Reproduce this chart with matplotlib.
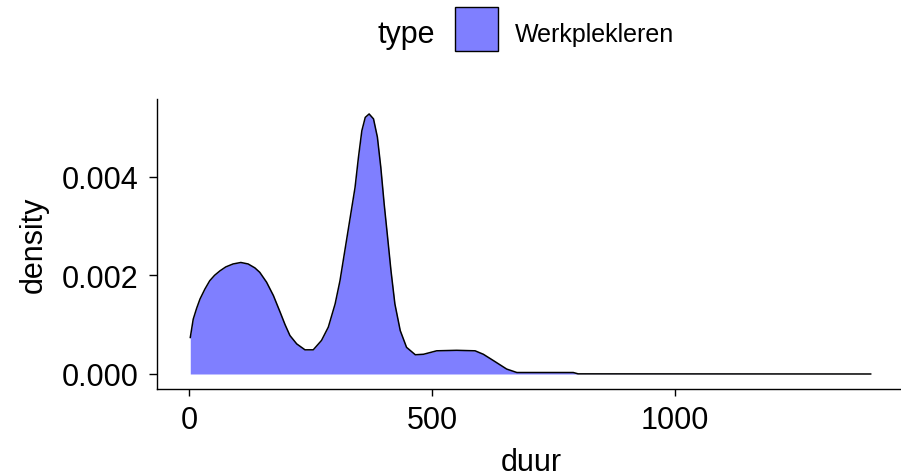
import matplotlib
matplotlib.use("Agg")
import matplotlib.pyplot as plt
from matplotlib.patches import Rectangle

plt.rcParams['font.family'] = ['Liberation Sans', 'DejaVu Sans']

# Data (density estimate of 'duur')
duur = [2, 8, 15, 22, 32, 42, 52, 63, 75, 90, 106, 121, 135, 145, 159, 173, 187, 197,
        207, 221, 238, 255, 272, 286, 300, 310, 320, 331, 341, 348, 355, 362, 370,
        379, 387, 394, 401, 408, 415, 423, 434, 447, 465, 482, 509, 550, 588, 605,
        626, 653, 674, 790, 800, 1402]
density = [0.00074, 0.00111, 0.00133, 0.00152, 0.00172, 0.00189, 0.00200, 0.00209,
           0.00217, 0.00223, 0.00226, 0.00223, 0.00215, 0.00206, 0.00186, 0.00159,
           0.00125, 0.00100, 0.00078, 0.00061, 0.00049, 0.00049, 0.00068, 0.00095,
           0.00142, 0.00189, 0.00250, 0.00317, 0.00378, 0.00439, 0.00493, 0.00520,
           0.00527, 0.00517, 0.00480, 0.00419, 0.00344, 0.00277, 0.00209, 0.00142,
           0.00088, 0.00054, 0.00039, 0.00040, 0.00047, 0.00048, 0.00047, 0.00040,
           0.00027, 0.00010, 0.00003, 0.00003, 0.000003, 0.0]
series_name = "Werkplekleren"
legend_title = "type"
x_ticks = [0, 500, 1000]
y_ticks = [0.000, 0.002, 0.004]
y_tick_labels = ["0.000", "0.002", "0.004"]

W, H = 901, 477
fig = plt.figure(figsize=(W / 100, H / 100), dpi=100)

# panel in pixel coordinates
left_px, right_px, top_px, bottom_px = 157, 904.6, 100, 389.5
ax = fig.add_axes([left_px / W, (H - bottom_px) / H,
                   (right_px - left_px) / W, (bottom_px - top_px) / H])

fill_color = '#7F7FFF'
ax.fill_between(duur, 0, density, color=fill_color, linewidth=0)
ax.plot(duur, density, color='black', linewidth=1.1, solid_joinstyle='round')

ax.set_xlim(-66.5, 1471.8)
ax.set_ylim(-0.000294, 0.005573)

for s in ['top', 'right']:
    ax.spines[s].set_visible(False)
for s in ['left', 'bottom']:
    ax.spines[s].set_linewidth(1.0)
    ax.spines[s].set_color('black')

ax.set_xticks(x_ticks)
ax.set_xticklabels([str(v) for v in x_ticks])
ax.set_yticks(y_ticks)
ax.set_yticklabels(y_tick_labels)
ax.tick_params(axis='x', length=4.7, width=1.0, pad=7.2, labelsize=22, colors='black')
ax.tick_params(axis='y', length=6.0, width=1.0, pad=7.2, labelsize=22, colors='black')

ax.set_xlabel('duur', fontsize=22)
ax.set_ylabel('density', fontsize=22)
ax.xaxis.set_label_coords(531 / W, (H - 448) / H, transform=fig.transFigure)
ax.yaxis.set_label_coords(49 / W, (H - 244.75) / H, transform=fig.transFigure)

# legend (top)
fig.text(378 / W, (H - 43) / H, legend_title, fontsize=22, ha='left', va='baseline')
fig.patches.append(Rectangle((455 / W, (H - 51.7) / H), 42.7 / W, 43.4 / H,
                             transform=fig.transFigure, facecolor=fill_color,
                             edgecolor='black', linewidth=1.0))
fig.text(515 / W, (H - 42) / H, series_name, fontsize=18, ha='left', va='baseline')

fig.savefig('out.png', dpi=100)
